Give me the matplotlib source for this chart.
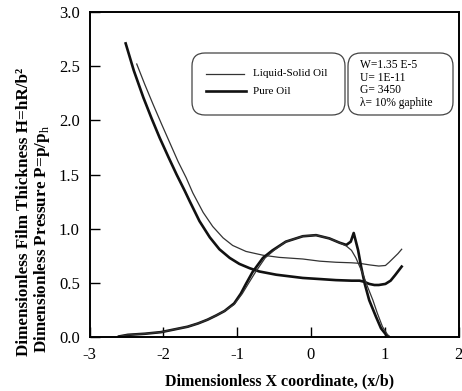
import matplotlib
matplotlib.use("Agg")
import matplotlib.pyplot as plt
from matplotlib.patches import FancyBboxPatch
from matplotlib.lines import Line2D
from matplotlib.transforms import IdentityTransform

# film thickness, pure oil (thick line)
film_pure_x = [-2.51, -2.40, -2.27, -2.16, -2.05, -1.93, -1.82, -1.71, -1.64, -1.51,
               -1.37, -1.24, -1.10, -0.97, -0.83, -0.70, -0.47, -0.11, 0.12, 0.34,
               0.55, 0.66, 0.72, 0.79, 0.86, 0.92, 1.01, 1.08, 1.14, 1.23]
film_pure_y = [2.71, 2.46, 2.21, 2.02, 1.84, 1.66, 1.50, 1.35, 1.25, 1.07,
               0.92, 0.81, 0.73, 0.675, 0.635, 0.605, 0.575, 0.545, 0.535, 0.525,
               0.52, 0.52, 0.51, 0.49, 0.48, 0.48, 0.49, 0.52, 0.57, 0.65]

# film thickness, liquid-solid oil (thin line)
film_ls_x = [-2.36, -2.25, -2.14, -2.02, -1.91, -1.80, -1.69, -1.60, -1.46, -1.33,
             -1.19, -1.06, -0.88, -0.65, -0.43, -0.11, 0.12, 0.34, 0.55, 0.66,
             0.80, 0.92, 1.01, 1.06, 1.12, 1.18, 1.23]
film_ls_y = [2.52, 2.33, 2.15, 1.96, 1.79, 1.62, 1.47, 1.33, 1.15, 1.02,
             0.915, 0.845, 0.79, 0.755, 0.735, 0.72, 0.70, 0.69, 0.685, 0.68,
             0.665, 0.655, 0.66, 0.69, 0.73, 0.77, 0.81]

# pressure, pure oil (thick line)
pres_pure_x = [-2.60, -2.48, -2.25, -2.03, -1.85, -1.67, -1.53, -1.40, -1.28, -1.17,
               -1.04, -0.95, -0.88, -0.79, -0.65, -0.52, -0.34, -0.11, 0.07, 0.25,
               0.39, 0.48, 0.54, 0.58, 0.64, 0.68, 0.73, 0.79, 0.88, 0.95, 1.02, 1.06]
pres_pure_y = [0.005, 0.02, 0.03, 0.045, 0.07, 0.095, 0.125, 0.16, 0.20, 0.24,
               0.31, 0.40, 0.49, 0.60, 0.73, 0.80, 0.88, 0.93, 0.94, 0.91,
               0.87, 0.85, 0.88, 0.96, 0.80, 0.65, 0.49, 0.34, 0.19, 0.08, 0.02, 0.0]

# pressure, liquid-solid oil (thin line)
pres_ls_x = [-2.60, -2.48, -2.25, -2.03, -1.85, -1.67, -1.53, -1.40, -1.28, -1.17,
             -1.04, -0.93, -0.85, -0.75, -0.62, -0.50, -0.34, -0.11, 0.07, 0.25,
             0.39, 0.48, 0.55, 0.61, 0.70, 0.77, 0.84, 0.90, 0.97, 1.04, 1.07]
pres_ls_y = [0.005, 0.02, 0.03, 0.045, 0.07, 0.095, 0.125, 0.16, 0.20, 0.24,
             0.30, 0.40, 0.49, 0.60, 0.73, 0.80, 0.88, 0.93, 0.94, 0.91,
             0.87, 0.84, 0.80, 0.73, 0.59, 0.46, 0.34, 0.22, 0.095, 0.02, 0.0]

xticks = [-3, -2, -1, 0, 1, 2]
yticks = [0.0, 0.5, 1.0, 1.5, 2.0, 2.5, 3.0]
info_lines = ["W=1.35 E-5", "U= 1E-11", "G= 3450", "\u03bb= 10% gaphite"]

plt.rcParams["font.family"] = ["Liberation Serif", "DejaVu Serif"]
plt.rcParams["mathtext.fontset"] = "custom"
plt.rcParams["mathtext.rm"] = "Liberation Serif"
plt.rcParams["mathtext.bf"] = "Liberation Serif:bold"

W, H = 462, 391
fig = plt.figure(figsize=(W / 100, H / 100), dpi=100)
ax = fig.add_axes([89.5 / W, 54 / H, 369 / W, 325 / H])

thick = dict(color="#111111", lw=1.9)
thin = dict(color="#333333", lw=0.9)
ax.plot(film_pure_x, film_pure_y, **thick)
ax.plot(film_ls_x, film_ls_y, **thin)
ax.plot(pres_pure_x, pres_pure_y, **thick)
ax.plot(pres_ls_x, pres_ls_y, **thin)

ax.set_xlim(-3, 2)
ax.set_ylim(0, 3)
ax.set_xticks(xticks)
ax.set_xticklabels([str(t) for t in xticks])
ax.set_yticks(yticks)
ax.set_yticklabels([f"{t:.1f}" for t in yticks])
ax.tick_params(direction="in", length=7, width=1.0, labelsize=12, pad=7)
for s in ax.spines.values():
    s.set_linewidth(1.4)

fig.text(0.605, 0.024, "Dimensionless X coordinate, (x/b)", ha="center",
         va="center", fontsize=11.5, fontweight="bold")
fig.text(24 / W, (H - 356) / H, "Dimensionless Film Thickness H=hR/b\u00b2",
         rotation=90, ha="center", va="bottom", fontsize=12.3, fontweight="bold")
fig.text(42 / W, (H - 353) / H, r"Dimensionless Pressure P=p/p$_{\mathrm{h}}$",
         rotation=90, ha="center", va="bottom", fontsize=12.3, fontweight="bold")

# legend and parameter boxes, drawn in pixel coordinates
idt = IdentityTransform()
for x0, x1 in [(192, 345), (348, 453)]:
    box = FancyBboxPatch((x0, H - 115), x1 - x0, 62,
                         boxstyle="round,pad=0,rounding_size=13",
                         transform=idt, fc="white", ec="#444444", lw=0.9)
    fig.patches.append(box)

fig.lines.append(Line2D([206, 244], [H - 74, H - 74], transform=idt, **thin))
fig.lines.append(Line2D([206, 246], [H - 91, H - 91], transform=idt, **thick))
fig.text(253, H - 74, "Liquid-Solid Oil", transform=idt, va="center",
         fontsize=8)
fig.text(253, H - 91, "Pure Oil", transform=idt, va="center", fontsize=8)

for i, line in enumerate(info_lines):
    fig.text(360, H - 65 - 12.7 * i, line, transform=idt, va="center",
             fontsize=8.3)

fig.savefig("out.png", dpi=100)
